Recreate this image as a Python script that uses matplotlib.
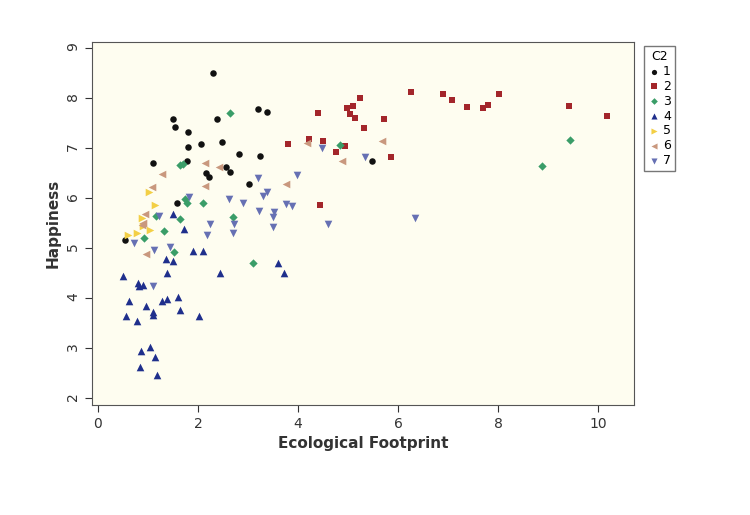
import matplotlib
matplotlib.use("Agg")
import matplotlib.pyplot as plt

# (x, y) per group
g1 = [(2.3, 8.5), (1.5, 7.58), (1.54, 7.42), (1.8, 7.32), (2.38, 7.58), (3.2, 7.78), (3.38, 7.72),
      (1.8, 7.02), (2.06, 7.08), (2.48, 7.12), (1.78, 6.74), (1.1, 6.7), (2.82, 6.88), (3.24, 6.84),
      (2.16, 6.5), (2.22, 6.42), (2.56, 6.62), (2.64, 6.52), (3.02, 6.28), (5.48, 6.74), (1.58, 5.9),
      (0.54, 5.16)]
g2 = [(4.4, 7.7), (5.24, 8.0), (4.98, 7.8), (5.1, 7.84), (5.04, 7.68), (5.14, 7.6), (5.72, 7.58),
      (5.32, 7.4), (6.26, 8.12), (3.8, 7.08), (4.22, 7.18), (4.5, 7.14), (4.94, 7.04), (4.76, 6.92),
      (5.86, 6.82), (4.44, 5.86), (6.9, 8.08), (7.08, 7.96), (7.38, 7.82), (7.7, 7.8), (7.8, 7.86),
      (8.02, 8.08), (9.42, 7.84), (10.18, 7.64)]
g3 = [(2.64, 7.7), (1.64, 6.66), (1.7, 6.68), (4.84, 7.06), (1.74, 5.98), (1.78, 5.9), (2.1, 5.9),
      (1.16, 5.64), (1.64, 5.58), (2.7, 5.62), (1.32, 5.34), (0.92, 5.2), (1.52, 4.92), (3.1, 4.7),
      (8.88, 6.64), (9.44, 7.16)]
g4 = [(1.5, 5.68), (1.72, 5.38), (1.36, 4.78), (1.5, 4.74), (1.9, 4.94), (2.1, 4.94), (1.38, 4.5),
      (2.44, 4.5), (3.6, 4.7), (3.72, 4.5), (0.5, 4.44), (0.8, 4.3), (0.9, 4.26), (0.82, 4.24),
      (0.62, 3.94), (0.96, 3.84), (1.1, 3.72), (1.1, 3.66), (0.56, 3.64), (0.78, 3.54), (1.28, 3.94),
      (1.38, 3.98), (1.6, 4.02), (1.64, 3.76), (2.02, 3.64), (0.86, 2.94), (1.04, 3.02), (1.14, 2.82),
      (0.84, 2.62), (1.18, 2.46)]
g5 = [(1.14, 5.86), (1.02, 6.12), (0.88, 5.6), (0.9, 5.44), (1.04, 5.36), (0.6, 5.26), (0.78, 5.3)]
g6 = [(1.28, 6.48), (1.08, 6.22), (2.14, 6.7), (2.42, 6.62), (2.14, 6.24), (3.76, 6.28), (4.18, 7.1),
      (4.88, 6.74), (5.68, 7.14), (0.94, 5.68), (0.9, 5.5), (0.88, 5.46), (0.96, 4.88)]
g7 = [(4.48, 7.0), (5.34, 6.82), (3.98, 6.46), (3.2, 6.4), (3.38, 6.12), (3.3, 6.04), (1.82, 6.02),
      (2.62, 5.98), (2.9, 5.9), (3.76, 5.88), (3.88, 5.84), (3.22, 5.74), (3.52, 5.72), (3.5, 5.62),
      (1.22, 5.64), (2.24, 5.48), (2.72, 5.48), (3.5, 5.42), (4.6, 5.48), (2.18, 5.26), (2.7, 5.3),
      (6.34, 5.6), (0.72, 5.1), (1.12, 4.96), (1.44, 5.02), (1.1, 4.24)]

groups = [g1, g2, g3, g4, g5, g6, g7]
labels = ["1", "2", "3", "4", "5", "6", "7"]
markers = ["o", "s", "D", "^", ">", "<", "v"]
colors = ["#111111", "#a3262b", "#3a9d68", "#1f2f8c", "#f3cf45", "#c9987e", "#6670b3"]
sizes = [22, 24, 18, 30, 30, 30, 30]

fig = plt.figure(figsize=(7.5, 5.15), dpi=100)
ax = fig.add_axes([92 / 750, 1 - 405 / 515, 542 / 750, 363 / 515])
ax.set_facecolor("#fefdf0")
handles = []
for pts, lab, m, c, s in zip(groups, labels, markers, colors, sizes):
    xs = [p[0] for p in pts]
    ys = [p[1] for p in pts]
    handles.append(ax.scatter(xs, ys, marker=m, s=s, color=c, linewidths=0, label=lab))

ax.set_xlim(-0.12, 10.72)
ax.set_ylim(1.86, 9.12)
ax.set_xticks([0, 2, 4, 6, 8, 10])
ax.set_yticks(range(2, 10))
ax.tick_params(labelsize=10, colors="#333333", direction="out", length=5)
ax.tick_params(axis="y", labelrotation=90)
for sp in ax.spines.values():
    sp.set_color("#555555")
ax.set_xlabel("Ecological Footprint", fontsize=11, fontweight="bold", color="#333333")
ax.set_ylabel("Happiness", fontsize=11, fontweight="bold", color="#333333")

leg = fig.legend(handles=handles, title="C2", loc="upper left",
                 bbox_to_anchor=(638 / 750, 1 - 40 / 515), fontsize=9, title_fontsize=9,
                 handletextpad=0.2, labelspacing=0.15, borderpad=0.3, handlelength=1,
                 fancybox=False, edgecolor="#555555", markerscale=0.8)
fig.savefig("out.png", dpi=100)
